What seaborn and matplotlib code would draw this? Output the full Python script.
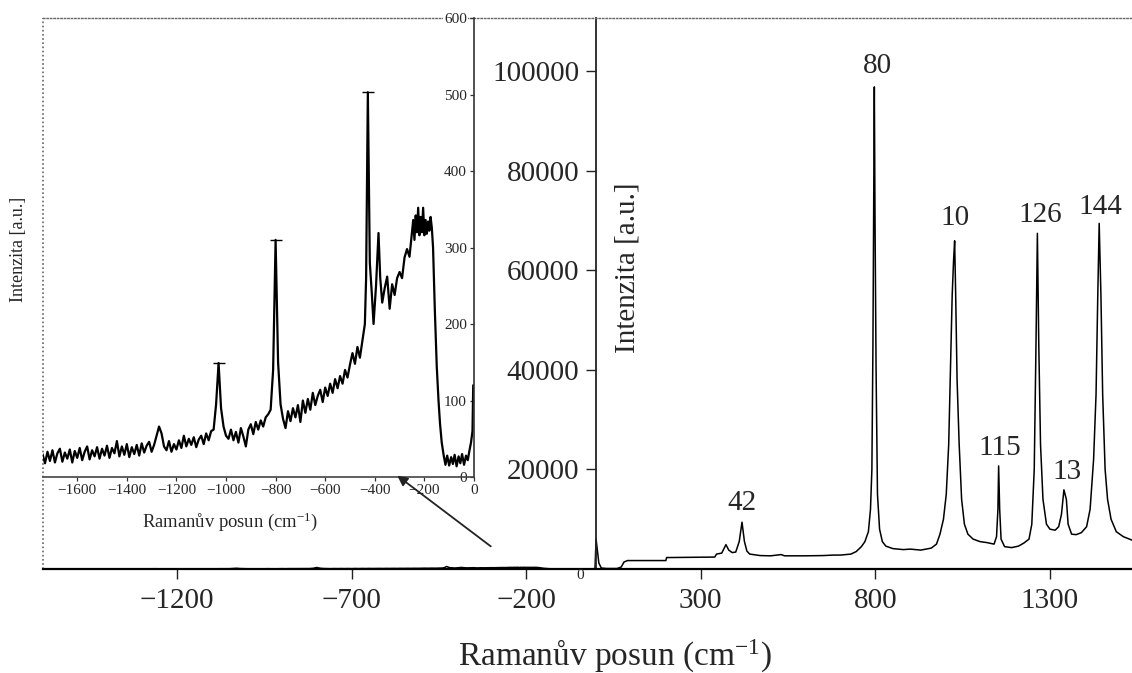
import numpy as np
import pandas as pd
import matplotlib
matplotlib.use("Agg")
import matplotlib.pyplot as plt
import seaborn as sns

# ---------------- data ----------------
# anti-Stokes part (inset, also drawn in the main plot)
as_x = [-1740, -1730, -1720, -1710, -1700, -1690, -1680, -1670, -1660, -1650,
        -1640, -1630, -1620, -1610, -1600, -1590, -1580, -1570, -1560, -1550,
        -1540, -1530, -1520, -1510, -1500, -1490, -1480, -1470, -1460, -1450,
        -1440, -1430, -1420, -1410, -1400, -1390, -1380, -1370, -1360, -1350,
        -1340, -1330, -1320, -1310, -1300,
        -1290, -1280, -1270, -1260, -1250, -1240, -1230, -1220, -1210, -1200,
        -1190, -1180, -1170, -1160, -1150, -1140, -1130, -1120, -1110, -1100,
        -1090, -1080, -1070, -1060,
        -1050, -1040, -1030, -1020, -1010, -1000,
        -990, -980, -970, -960, -950, -940, -930, -920, -910, -900,
        -890, -880, -870, -860, -850, -840, -830,
        -820, -810, -800, -790, -780,
        -770, -760, -750, -740, -730, -720, -710, -700, -690, -680,
        -670, -660, -650, -640,
        -630, -620, -610, -600, -590, -580, -570, -560, -550, -540,
        -530, -520, -510, -500,
        -490, -480, -470, -460, -450, -440, -435, -428, -420, -412,
        -405, -395, -385, -378, -370, -360, -350, -340, -330, -320,
        -310, -300, -290, -280, -270, -260, -250, -245, -240, -235,
        -230, -225, -220, -215, -210, -205, -200, -195, -190, -185,
        -180, -175, -170, -165, -158, -150, -143, -137, -130, -122,
        -115, -108, -100, -92, -85, -78, -70, -62, -55, -48,
        -40, -32, -25, -18, -12, -6, -3]
as_y = [30, 18, 33, 21, 35, 19, 31, 37, 20, 32,
        24, 36, 19, 34, 25, 38, 22, 33, 40, 23,
        35, 27, 39, 24, 37, 28, 41, 25, 38, 31,
        47, 27, 40, 29, 43, 26, 39, 30, 42, 28,
        44, 32, 41, 46, 33,
        42, 54, 66, 57, 40, 35, 47, 33, 43, 36,
        48, 38, 54, 40, 50, 42, 52, 39, 49, 54,
        43, 57, 48, 60,
        62, 95, 149, 90, 66, 54,
        50, 62, 48, 59, 45, 64, 53, 40, 62, 69,
        56, 72, 62, 74, 66, 78, 82,
        88, 140, 310, 150, 95,
        76, 64, 86, 73, 90, 78, 94, 72, 100, 84,
        102, 88, 110, 94,
        106, 114, 98, 117, 106, 122, 110, 128, 116, 132,
        122, 140, 130, 147,
        162, 148, 170, 156, 178, 200, 260, 503, 280, 240,
        200, 250, 319, 260, 228, 247, 262, 220, 252, 238,
        260, 268, 260, 287, 298, 288, 320, 336, 310, 342,
        320, 352, 316, 340, 320, 352, 316, 336, 318, 334,
        322, 340, 326, 300, 220, 144, 100, 70, 45, 28,
        16, 28, 15, 26, 17, 29, 14, 27, 18, 30,
        16, 28, 22, 35, 45, 60, 120]

# Stokes part (main plot)
st_x = [0, 8, 15, 30, 60, 72, 80, 90, 200, 202,
        340, 345, 360, 372, 380, 390, 400, 410, 418, 425,
        432, 440, 460, 470, 500, 530, 540, 600, 650, 680,
        700, 730, 745, 760, 770, 780, 786, 790, 793, 795,
        797, 799, 802, 806, 812, 820, 830, 850, 880, 900,
        930, 960, 975, 985, 995, 1003, 1010, 1015, 1020, 1024,
        1027, 1030, 1034, 1040, 1047, 1055, 1065, 1080, 1100, 1120,
        1140, 1147, 1151, 1153, 1156, 1160, 1170, 1190, 1210, 1225,
        1240, 1248, 1255, 1260, 1264, 1268, 1273, 1280, 1290, 1300,
        1315, 1325, 1333, 1340, 1347, 1352, 1362, 1375, 1390, 1405,
        1415, 1425, 1432, 1437, 1441, 1446, 1451, 1458, 1465, 1475,
        1490, 1510, 1535]
st_y = [6000, 1200, 200, 100, 100, 400, 1400, 1700, 1700, 2300,
        2400, 3000, 3200, 4900, 3800, 3300, 3400, 5500, 9400, 5500,
        3600, 3000, 2800, 2700, 2650, 2900, 2650, 2650, 2700, 2800,
        2800, 3000, 3500, 4500, 5500, 7500, 12000, 20000, 45000, 70000,
        96800, 70000, 40000, 15000, 8000, 5500, 4600, 4100, 3900, 4000,
        3800, 4200, 5000, 7000, 10000, 15000, 25000, 40000, 55000, 62000,
        65900, 55000, 38000, 25000, 14000, 9000, 7000, 6000, 5500, 5300,
        5000, 6500, 12000, 20700, 12000, 6000, 4500, 4300, 4600, 5200,
        6000, 9000, 20000, 45000, 67400, 45000, 25000, 14000, 9000, 8000,
        7800, 8500, 11000, 15900, 14000, 9000, 7000, 6900, 7300, 8500,
        12000, 22000, 35000, 55000, 69400, 55000, 35000, 20000, 14000, 10000,
        7500, 6500, 5800]

# inset peak caps
cap_x = [-1030, -800, -428]
cap_y = [149, 310, 503]

# peak labels in main plot
peak_labels = ["42", "80", "10", "115", "126", "13", "144"]
peak_lx = [418, 807, 1028, 1157, 1271, 1349, 1443]
peak_ly = [13250, 101000, 70480, 24300, 71080, 19480, 72700]

main_xticks = [-1200, -700, -200, 300, 800, 1300]
main_yticks = [20000, 40000, 60000, 80000, 100000]
inset_xticks = [-1600, -1400, -1200, -1000, -800, -600, -400, -200, 0]
inset_yticks = [0, 100, 200, 300, 400, 500, 600]

# ---------------- style ----------------
sns.set_style("white")
plt.rcParams["font.family"] = ["Liberation Serif", "DejaVu Serif"]
plt.rcParams["mathtext.fontset"] = "custom"
plt.rcParams["mathtext.rm"] = "Liberation Serif"
plt.rcParams["mathtext.it"] = "Liberation Serif:italic"
plt.rcParams["axes.unicode_minus"] = True

main_df = pd.DataFrame({"x": as_x + st_x, "y": as_y + st_y})
inset_df = pd.DataFrame({"x": as_x, "y": as_y})

fig = plt.figure(figsize=(11.32, 6.73), dpi=100)
ax = fig.add_axes([0.0380, 0.1545, 0.9620, 0.8188])

sns.lineplot(data=main_df, x="x", y="y", ax=ax, color="black", lw=1.1,
             estimator=None, sort=False)
ax.set_xlim(-1584, 1535)
ax.set_ylim(0, 110640)

# spines
ax.spines["right"].set_visible(False)
ax.spines["top"].set_linestyle((0, (1, 1.5)))
ax.spines["top"].set_color("#666666")
ax.spines["top"].set_linewidth(1.0)
ax.spines["bottom"].set_color("black")
ax.spines["bottom"].set_linewidth(1.6)
ax.spines["left"].set_position(("data", 0))
ax.spines["left"].set_color("#222222")
ax.spines["left"].set_linewidth(1.3)
ax.plot([0, 0], [0, 1], transform=ax.transAxes, ls=(0, (1, 1.5)), color="#666666",
        lw=1.2, clip_on=False)

ax.set_xticks(main_xticks)
ax.set_yticks(main_yticks)
ax.set_yticklabels([str(v) for v in main_yticks])
ax.tick_params(axis="both", direction="out", length=7, width=1.0, color="#222222",
               labelsize=21, pad=5, bottom=True, left=True)
ax.tick_params(axis="x", pad=7)
ax.set_xlabel("Ramanův posun (cm$^{-1}$)", fontsize=24, va="center")
ax.xaxis.set_label_coords(0.525, -0.158)
ax.set_ylabel("Intenzita [a.u.]", fontsize=21, va="center")
ax.yaxis.set_label_coords(0.537, 0.547)

ax.text(-45, 0, "0", fontsize=11, ha="center", va="top")

for lab, lx, ly in zip(peak_labels, peak_lx, peak_ly):
    ax.text(lx, ly, lab, fontsize=21, ha="center", va="center")

# ---------------- inset ----------------
ins = fig.add_axes([0.0380, 0.2912, 0.3807, 0.6820])
ins.set_facecolor("none")
sns.lineplot(data=inset_df, x="x", y="y", ax=ins, color="black", lw=1.6,
             estimator=None, sort=False)
ins.plot(cap_x, cap_y, ls="none", marker="_", ms=8, mew=1.0, color="black")
ins.set_xlim(-1738, 0)
ins.set_ylim(0, 600)
ins.spines["top"].set_visible(False)
ins.spines["right"].set_visible(False)
ins.spines["left"].set_position(("axes", 1.0))
ins.spines["left"].set_color("#333333")
ins.spines["left"].set_linewidth(1.2)
ins.spines["bottom"].set_color("#444444")
ins.spines["bottom"].set_linewidth(1.2)
ins.set_xticks(inset_xticks)
ins.set_yticks(inset_yticks)
ins.set_yticklabels([str(v) for v in inset_yticks])
ins.tick_params(axis="both", direction="out", length=3, width=0.9, color="#333333",
                labelsize=11, pad=2, bottom=True, left=True)
for t in ins.get_yticklabels():
    t.set_bbox(dict(facecolor="white", edgecolor="none", pad=0.5))
ins.set_xlabel("Ramanův posun (cm$^{-1}$)", fontsize=13.4, va="center")
ins.xaxis.set_label_coords(0.434, -0.098)
ins.set_ylabel("Intenzita [a.u.]", fontsize=13, va="center")
ins.yaxis.set_label_coords(-0.058, 0.497)

# arrow from main to inset
fig.add_artist(matplotlib.patches.FancyArrowPatch(
    (0.4355, 0.1857), (0.349, 0.2957), transform=fig.transFigure,
    arrowstyle="-|>,head_length=6,head_width=3", color="#222222", lw=1.3))

fig.savefig("out.png", dpi=100)
